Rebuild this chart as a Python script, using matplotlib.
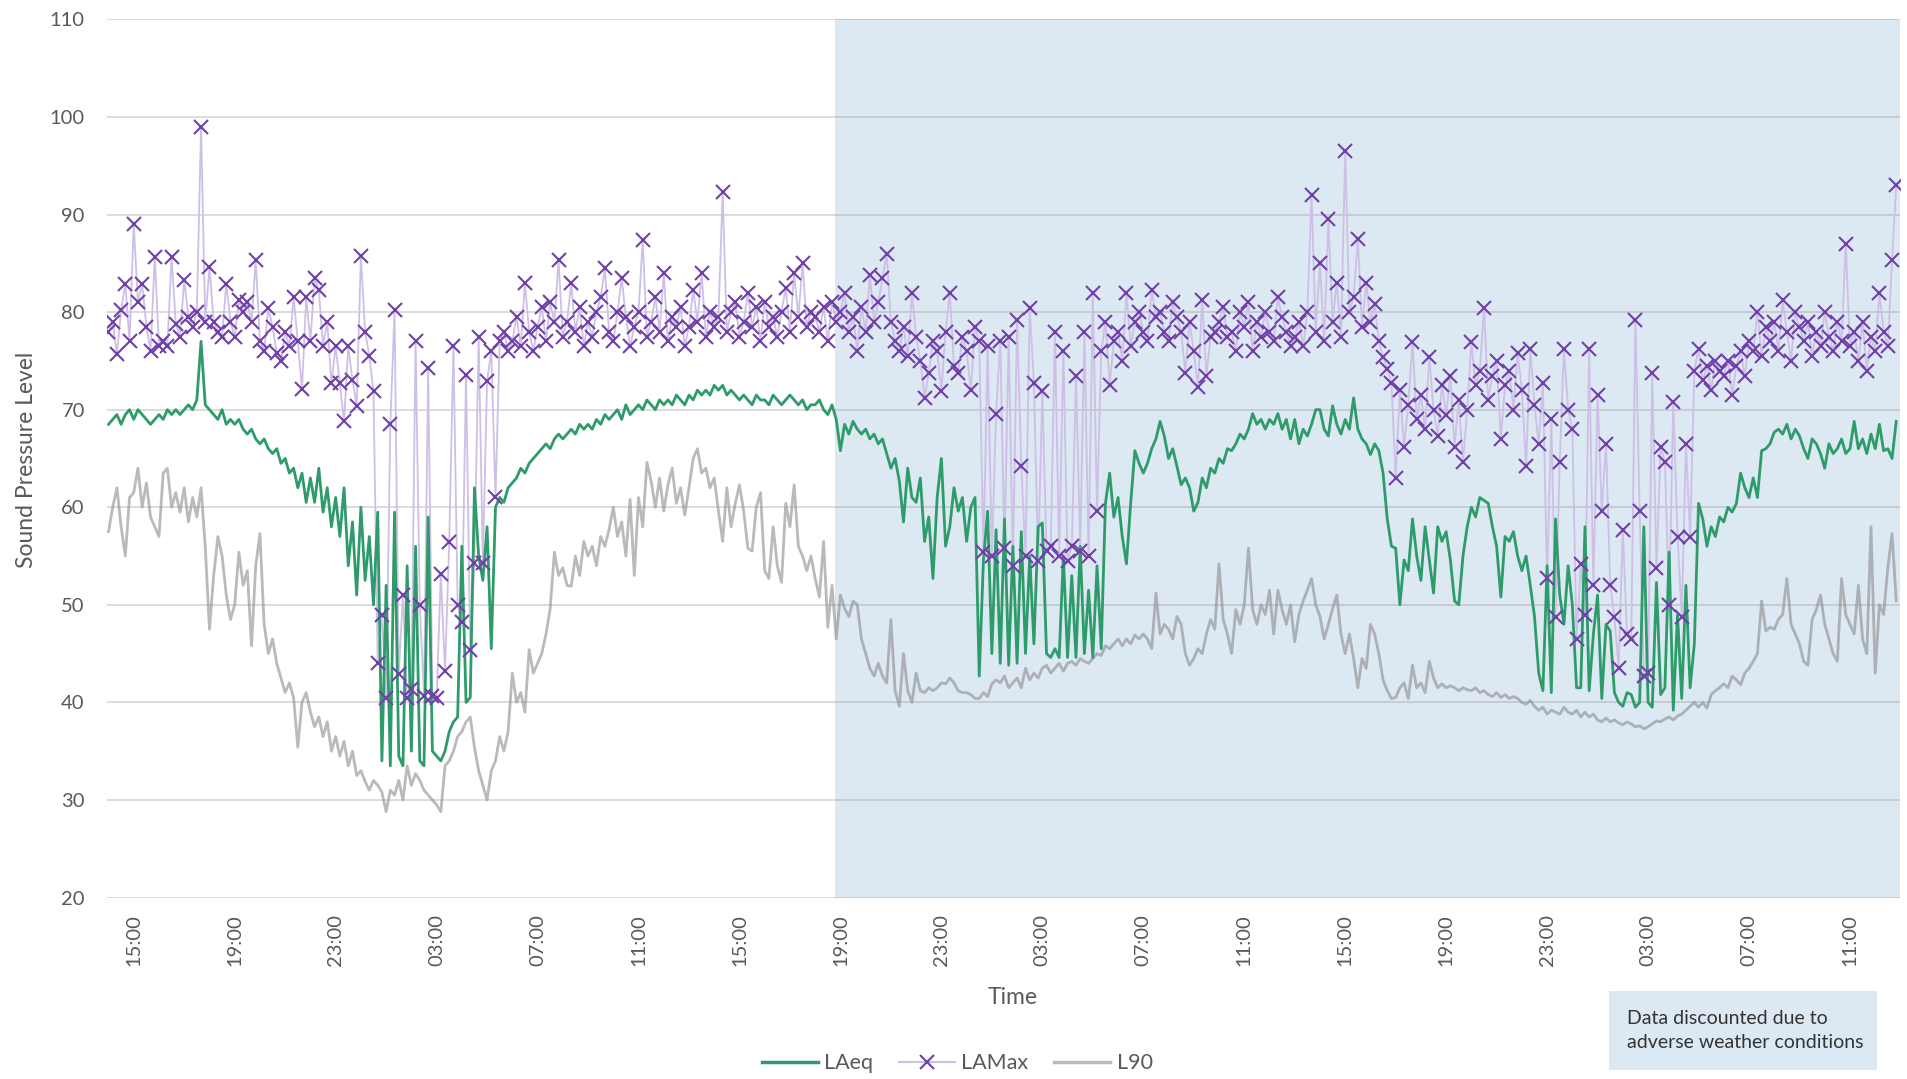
"""Sound pressure level time series (LAeq, LAMax, L90) over ~3 days, 10-min samples."""

import matplotlib
matplotlib.use("Agg")
import matplotlib.pyplot as plt
import numpy as np
from matplotlib.lines import Line2D
from matplotlib.patches import Rectangle

# Start of record: 14:00 on day 1, one value every 10 minutes (one row per hour).
START_HOUR = 14.0
STEP_HOURS = 1.0 / 6.0

LAEQ = [
    68.5, 69, 69.5, 68.5, 69.5, 70,        # 14:00
    69, 70, 69.5, 69, 68.5, 69,            # 15:00
    69.5, 69, 70, 69.5, 70, 69.5,          # 16:00
    70, 70.5, 70, 71, 77, 70.5,            # 17:00
    70, 69.5, 69, 70, 68.5, 69,            # 18:00
    68.5, 69, 68, 67.5, 68, 67,            # 19:00
    66.5, 67, 66, 65.5, 66, 64.5,          # 20:00
    65, 63.5, 64, 62, 63.5, 60.5,          # 21:00
    63, 60.5, 64, 59.5, 62, 58,            # 22:00
    61, 57, 62, 54, 58.5, 51,              # 23:00
    60, 52.5, 57, 50, 59.5, 34,            # 00:00
    52, 33.5, 59.5, 34.5, 33.5, 54,        # 01:00
    35, 56, 34, 33.5, 59, 35,              # 02:00
    34.5, 34, 35, 37, 38, 38.5,            # 03:00
    56, 40, 40.5, 62, 55, 52.5,            # 04:00
    58, 45.5, 60, 61, 60.5, 62,            # 05:00
    62.5, 63, 64, 63.5, 64.5, 65,          # 06:00
    65.5, 66, 66.5, 66, 67, 67.5,          # 07:00
    67, 67.5, 68, 67.5, 68.5, 68,          # 08:00
    68.5, 68, 69, 68.5, 69.5, 69,          # 09:00
    69.5, 70, 69, 70.5, 69.5, 70,          # 10:00
    70.5, 70, 71, 70.5, 70, 71,            # 11:00
    70.5, 71, 70.5, 71.5, 71, 70.5,        # 12:00
    71.5, 71, 72, 71.5, 72, 71.5,          # 13:00
    72.5, 72, 72.5, 71.5, 72, 71.5,        # 14:00
    71, 71.5, 71, 70.5, 71.5, 71,          # 15:00
    71, 70.5, 71.5, 71, 70.5, 71,          # 16:00
    71.5, 71, 70.5, 71, 70, 70.5,          # 17:00
    70.5, 71, 70, 69.5, 70.5, 69,          # 18:00
    65.8, 68.5, 67.5, 68.8, 68, 67.5,      # 19:00
    68, 67, 67.5, 66.5, 67, 65.5,          # 20:00
    64, 65, 62.7, 58.5, 64, 61,            # 21:00
    60.5, 63, 56.5, 59, 52.7, 61,          # 22:00
    65, 56, 58, 62, 59.6, 61,              # 23:00
    56.5, 60, 61, 42.7, 54.6, 59.6,        # 00:00
    45, 57.7, 44, 58.8, 43.8, 56,          # 01:00
    44, 57.5, 45, 55, 46, 58,              # 02:00
    58.4, 45, 44.6, 45.5, 44.6, 55,        # 03:00
    44.6, 53, 44.6, 56, 45, 51.5,          # 04:00
    44.6, 54, 45.5, 60.4, 63.5, 59,        # 05:00
    61, 57, 54.2, 60.4, 65.8, 64.5,        # 06:00
    63.5, 64.5, 66, 67, 68.8, 67.3,        # 07:00
    65, 66, 64.2, 62.3, 63, 62,            # 08:00
    59.6, 60.5, 63, 62, 64, 63.5,          # 09:00
    65, 64.5, 66, 65.8, 66.5, 67.5,        # 10:00
    67, 68, 69.6, 68.5, 69, 68,            # 11:00
    69, 68.5, 69.6, 68, 69, 67,            # 12:00
    69, 66.5, 68, 67.3, 68.5, 70,          # 13:00
    70, 68, 67.3, 70.4, 68.5, 67.5,        # 14:00
    69, 68, 71.2, 68, 67, 66.5,            # 15:00
    65.4, 66.5, 65.8, 63.5, 58.8, 56,      # 16:00
    55.8, 50, 54.6, 53.5, 58.8, 55,        # 17:00
    52.5, 58, 54.6, 51.2, 58, 56.5,        # 18:00
    57.5, 54.6, 50.4, 50, 55, 58,          # 19:00
    60, 59, 61, 60.7, 60.4, 58,            # 20:00
    56, 50.8, 57, 56.5, 57.5, 55,          # 21:00
    53.5, 55, 52, 48.8, 43, 41.2,          # 22:00
    54, 41, 58.8, 51, 48, 54,              # 23:00
    50, 41.5, 41.5, 58, 41.2, 47,          # 00:00
    51, 40.4, 48, 47.3, 41, 40,            # 01:00
    39.6, 41, 40.8, 39.5, 40, 58,          # 02:00
    40, 39.5, 52.3, 40.8, 41.5, 55.4,      # 03:00
    39.2, 49, 40.4, 52, 41.5, 46,          # 04:00
    60.4, 58.8, 56, 58, 57, 59,            # 05:00
    58.5, 60, 59.5, 60.4, 63.5, 62,        # 06:00
    61, 63, 61, 65.8, 66, 66.5,            # 07:00
    67.7, 68, 67.5, 68.5, 67, 68,          # 08:00
    67.3, 66, 65, 67, 66.5, 65.5,          # 09:00
    64, 66.5, 65.5, 66, 67, 65.5,          # 10:00
    66, 68.8, 66, 67, 65.5, 67.5,          # 11:00
    66, 68.5, 65.8, 66, 65, 68.8,          # 12:00
]

LAMAX = [
    78, 79, 75.7, 80.2, 82.9, 77,          # 14:00
    89, 81, 82.9, 78.5, 76, 85.7,          # 15:00
    76.5, 77, 76.5, 85.7, 78.8, 77.5,      # 16:00
    83.3, 79.5, 78.5, 80, 99, 79,          # 17:00
    84.6, 79, 78, 77.5, 82.9, 79,          # 18:00
    77.5, 81.2, 80, 81, 79, 85.3,          # 19:00
    77, 76, 80.4, 78.5, 75.8, 75,          # 20:00
    78, 76.5, 81.5, 77, 72.1, 81.5,        # 21:00
    77, 83.5, 82.3, 76.5, 79, 72.7,        # 22:00
    76.5, 72.7, 68.8, 76.5, 73, 70.4,      # 23:00
    85.8, 78, 75.5, 71.9, 44, 49,          # 00:00
    40.4, 68.5, 80.2, 42.9, 51, 40.4,      # 01:00
    41.4, 77, 50, 40.7, 74.3, 40.7,        # 02:00
    40.4, 53.2, 43.2, 56.4, 76.5, 50,      # 03:00
    48.2, 73.6, 45.4, 54.3, 77.5, 54.3,    # 04:00
    72.9, 76, 61.1, 77, 78, 76,            # 05:00
    77, 79.5, 76.5, 83, 78, 76,            # 06:00
    78.5, 80.5, 77, 81, 79, 85.3,          # 07:00
    77.5, 79, 83, 78, 80.5, 76.5,          # 08:00
    79, 77.5, 80, 81.5, 84.5, 78,          # 09:00
    77, 80, 83.5, 79.5, 76.5, 78.5,        # 10:00
    80, 87.4, 77.5, 79, 81.5, 78,          # 11:00
    84, 77, 79.5, 78.5, 80.5, 76.5,        # 12:00
    78.5, 82.3, 79, 84, 77.5, 80,          # 13:00
    78.5, 79.5, 92.3, 78, 80, 81,          # 14:00
    77.5, 79, 82, 78.5, 80.5, 77,          # 15:00
    81, 78.5, 79.5, 77.5, 80, 82.5,        # 16:00
    78, 84, 79.5, 85, 78.5, 80,            # 17:00
    79.5, 78, 80.5, 77, 81, 79,            # 18:00
    80, 82, 78, 79.5, 76, 80.5,            # 19:00
    78, 83.8, 79, 81, 83.5, 86,            # 20:00
    79, 77, 76, 78.5, 75.5, 82,            # 21:00
    77.5, 75, 71.2, 73.8, 77, 76,          # 22:00
    71.9, 78, 82, 74.5, 73.8, 77.5,        # 23:00
    76, 72, 78.5, 77, 55.4, 76.5,          # 00:00
    55, 69.6, 77, 55.8, 77.5, 54,          # 01:00
    79.2, 64.2, 55, 80.4, 72.7, 54.5,      # 02:00
    71.9, 55.5, 56, 78, 55, 76,            # 03:00
    54.5, 56, 73.5, 55.5, 78, 55,          # 04:00
    82, 59.6, 76, 79, 72.5, 77,            # 05:00
    78, 75, 82, 76.5, 79, 80,              # 06:00
    78, 77, 82.3, 79.5, 80, 78,            # 07:00
    77, 81, 79.5, 78, 73.8, 79,            # 08:00
    76, 72.3, 81.2, 73.5, 77.5, 78,        # 09:00
    79, 80.5, 77.5, 78, 76, 80,            # 10:00
    78.5, 81, 76, 79, 77.5, 80,            # 11:00
    78, 77, 81.5, 79.5, 78, 76.5,          # 12:00
    77.5, 79, 76.5, 80, 92, 78,            # 13:00
    85, 77, 89.5, 79, 83, 77.5,            # 14:00
    96.5, 80, 81.5, 87.5, 78.5, 83,        # 15:00
    79, 80.8, 77, 75.4, 74.2, 72.7,        # 16:00
    63, 72, 66.2, 70.5, 76.9, 69,          # 17:00
    71.5, 68, 75.4, 70, 67.3, 72.5,        # 18:00
    69.5, 73.5, 66.2, 71, 64.6, 70,        # 19:00
    76.9, 72.5, 74, 80.4, 71, 73.5,        # 20:00
    75, 67, 72.5, 74, 70, 75.8,            # 21:00
    72, 64.2, 76.2, 70.5, 66.5, 72.7,      # 22:00
    52.7, 69, 48.8, 64.6, 76.2, 70,        # 23:00
    68, 46.5, 54.2, 49, 76.2, 52,          # 00:00
    71.5, 59.6, 66.5, 52, 48.8, 43.5,      # 01:00
    57.7, 47, 46.5, 79.2, 59.6, 42.7,      # 02:00
    43, 73.8, 53.8, 66.2, 64.6, 50,        # 03:00
    70.8, 57, 48.8, 66.5, 57, 74,          # 04:00
    76.2, 73, 74.5, 72, 75, 74,            # 05:00
    73.5, 75, 71.5, 74.5, 76, 73.5,        # 06:00
    77, 76, 80, 75.5, 78.5, 77,            # 07:00
    79, 76, 81.2, 78, 75, 80,              # 08:00
    78.5, 77, 79, 75.5, 78, 76.5,          # 09:00
    80, 77.5, 76, 79, 77, 87,              # 10:00
    76.5, 78, 75, 79, 74, 77.5,            # 11:00
    76, 82, 78, 76.5, 85.3, 93,            # 12:00
]

L90 = [
    57.5, 60, 62, 58, 55, 61,              # 14:00
    61.5, 64, 60, 62.5, 59, 58,            # 15:00
    57, 63.5, 64, 60, 61.5, 59.5,          # 16:00
    62, 58.5, 61, 59, 62, 56,              # 17:00
    47.5, 53, 57, 55, 51, 48.5,            # 18:00
    50, 55.4, 52, 53.5, 45.8, 54,          # 19:00
    57.3, 48, 45, 46.5, 44, 42.5,          # 20:00
    41, 42, 40.5, 35.4, 40, 41,            # 21:00
    39, 37.5, 38.5, 36.5, 38, 35,          # 22:00
    36.5, 34.5, 36, 33.5, 35, 32.5,        # 23:00
    33, 31.9, 31, 32, 31.5, 30.8,          # 00:00
    28.8, 31, 30.5, 32, 30, 33.5,          # 01:00
    31.5, 32.7, 32, 31, 30.5, 30,          # 02:00
    29.5, 28.8, 33.5, 34, 35, 36.5,        # 03:00
    37, 38, 38.5, 35.4, 33, 31.5,          # 04:00
    30, 33, 34, 36.5, 35, 37,              # 05:00
    43, 40, 41, 39, 45.4, 43,              # 06:00
    44, 45, 47, 49.6, 55.4, 53,            # 07:00
    53.8, 52, 51.9, 55, 53, 56.5,          # 08:00
    55, 56, 54, 57, 56, 57.7,              # 09:00
    60, 57, 58.5, 55, 60.8, 53,            # 10:00
    61, 58, 64.6, 62.7, 60, 63,            # 11:00
    59.6, 62.3, 64, 60.4, 62, 59.2,        # 12:00
    62, 65, 66, 63.5, 64, 62,              # 13:00
    63, 59.6, 56.5, 62, 58, 60.4,          # 14:00
    62.3, 59.6, 55.8, 55.5, 60, 61.5,      # 15:00
    53.5, 52.7, 58, 54, 52.3, 60.4,        # 16:00
    58, 62.3, 56, 55, 53.5, 55,            # 17:00
    52.7, 50.8, 56.5, 47.7, 52, 46.5,      # 18:00
    51, 49.6, 48.8, 50.4, 50, 46.5,        # 19:00
    45, 43.5, 42.7, 44, 42.7, 42,          # 20:00
    48.5, 41.2, 39.6, 45, 41.2, 40,        # 21:00
    43, 41.2, 41, 41.5, 41.2, 41.5,        # 22:00
    42, 41.9, 42.5, 42, 41.2, 41,          # 23:00
    41, 40.8, 40.4, 40.4, 41, 40.6,        # 00:00
    41.9, 42.3, 42, 42.7, 41.5, 42,        # 01:00
    42.5, 41.5, 43.5, 42.3, 43, 42.5,      # 02:00
    43.5, 43.8, 43, 43.5, 44, 43.2,        # 03:00
    44, 44.2, 43.8, 44.5, 44.2, 44,        # 04:00
    44.5, 45, 44.8, 45.8, 45.5, 46,        # 05:00
    46.5, 45.8, 46.5, 46, 46.9, 46.5,      # 06:00
    47, 46.5, 45.5, 51.2, 47, 48,          # 07:00
    47.5, 46.5, 48.8, 48, 45, 43.8,        # 08:00
    44.5, 45.5, 45, 47, 48.5, 47.5,        # 09:00
    54.2, 48.5, 47, 45, 49.5, 48,          # 10:00
    50, 55.8, 49.5, 48, 50, 49,            # 11:00
    51.5, 47, 51.5, 49.5, 48, 50,          # 12:00
    46.2, 49, 50.4, 51.5, 52.7, 50,        # 13:00
    48.8, 46.5, 48, 49.6, 51, 47,          # 14:00
    45, 47, 44.5, 41.5, 44.5, 43.5,        # 15:00
    48, 47, 45, 42.3, 41.2, 40.4,          # 16:00
    40.5, 41.5, 42, 40.4, 43.8, 41.5,      # 17:00
    42, 41, 44.2, 42.5, 41.5, 41.9,        # 18:00
    41.5, 41.7, 41.5, 41.2, 41.5, 41.3,    # 19:00
    41.2, 41.5, 41, 41.2, 40.8, 40.6,      # 20:00
    41, 40.5, 40.8, 40.4, 40.6, 40.4,      # 21:00
    40, 39.8, 40.2, 39.6, 39.2, 39.5,      # 22:00
    38.8, 39.2, 39, 38.8, 39.5, 39,        # 23:00
    38.8, 39.2, 38.5, 39, 38.5, 38.8,      # 00:00
    38.2, 38, 38.4, 38, 38.2, 37.9,        # 01:00
    37.7, 38, 37.8, 37.5, 37.6, 37.3,      # 02:00
    37.5, 37.8, 38.1, 38, 38.3, 38.5,      # 03:00
    38.2, 38.6, 38.8, 39.2, 39.6, 40,      # 04:00
    39.5, 40, 39.4, 40.8, 41.2, 41.5,      # 05:00
    41.9, 41.5, 42.7, 42.3, 41.8, 43,      # 06:00
    43.5, 44.2, 45, 50.4, 47.3, 47.7,      # 07:00
    47.5, 48.5, 49, 52.7, 48, 47,          # 08:00
    46, 44.2, 43.8, 48.5, 49.5, 51,        # 09:00
    48, 46.5, 45, 44.2, 52.7, 49,          # 10:00
    48, 47, 52, 46.5, 45, 58,              # 11:00
    43, 50, 49, 53.8, 57.3, 50.4,          # 12:00
]

TICK_LABELS = ["15:00", "19:00", "23:00", "03:00", "07:00", "11:00"] * 3
FIRST_TICK_HOUR = 15
TICK_EVERY_HOURS = 4
DISCOUNT_FROM_HOUR = 42.8  # 18:48 on day 2

X_MIN, X_MAX = 13.94, 84.98

COLOR_LAEQ = "#2E9B6B"
COLOR_LAMAX_LINE = "#CDBFE6"
COLOR_LAMAX_MARK = "#7040A8"
COLOR_L90 = "#8C8C8C"
COLOR_SHADE = "#DCE8F2"
COLOR_TEXT = "#595959"


def main() -> None:
    plt.rcParams["font.family"] = ["Lato", "DejaVu Sans"]

    hours = START_HOUR + np.arange(len(LAEQ)) * STEP_HOURS

    fig = plt.figure(figsize=(19.07, 10.79), dpi=100)
    ax = fig.add_axes([0.0561, 0.1682, 0.9402, 0.8138])

    # Shaded region for discounted data, under the gridlines.
    ax.axvspan(DISCOUNT_FROM_HOUR, X_MAX, color=COLOR_SHADE, lw=0, zorder=0.2)

    ax.plot(hours, LAMAX, color=COLOR_LAMAX_LINE, lw=1.3, zorder=2)
    ax.plot(hours, L90, color=COLOR_L90, alpha=0.6, lw=2.0, zorder=3)
    ax.plot(hours, LAEQ, color=COLOR_LAEQ, lw=2.0, zorder=4)
    ax.plot(hours, LAMAX, ls="none", marker="x", ms=10, mew=1.5,
            color=COLOR_LAMAX_MARK, zorder=5)

    ax.set_xlim(X_MIN, X_MAX)
    ax.set_ylim(20, 110)
    ax.set_yticks(np.arange(20, 111, 10))
    tick_pos = FIRST_TICK_HOUR + TICK_EVERY_HOURS * np.arange(len(TICK_LABELS))
    ax.set_xticks(tick_pos)
    ax.set_xticklabels(TICK_LABELS, rotation=90)

    ax.set_axisbelow(True)
    ax.yaxis.grid(True, color="#9E9E9E", alpha=0.4, lw=1.3)
    ax.xaxis.grid(False)
    for spine in ax.spines.values():
        spine.set_visible(False)
    ax.tick_params(axis="both", length=0, labelsize=14.5, labelcolor=COLOR_TEXT)
    ax.tick_params(axis="y", pad=16)
    ax.tick_params(axis="x", pad=12)

    fig.text(27 / 1907, 1 - 460 / 1079, "Sound Pressure Level", rotation=90,
             ha="center", va="center", fontsize=16.5, color=COLOR_TEXT)
    fig.text(1013 / 1907, 1 - 998 / 1079, "Time", ha="center", va="center",
             fontsize=16.5, color=COLOR_TEXT)

    handles = [
        Line2D([], [], color=COLOR_LAEQ, lw=2.5),
        Line2D([], [], color=COLOR_LAMAX_LINE, lw=1.5, marker="x", ms=10,
               mew=1.5, mec=COLOR_LAMAX_MARK),
        Line2D([], [], color=COLOR_L90, alpha=0.6, lw=2.5),
    ]
    fig.legend(handles, ["LAeq", "LAMax", "L90"], loc="center",
               bbox_to_anchor=(0.502, 0.0145), ncol=3, frameon=False,
               fontsize=15.5, labelcolor=COLOR_TEXT, handlelength=2.6,
               handletextpad=0.3, columnspacing=1.2)

    # Note box, bottom right.
    fig.patches.append(Rectangle((0.8437, 0.0083), 0.1406, 0.0733,
                                 transform=fig.transFigure, facecolor=COLOR_SHADE,
                                 edgecolor="none"))
    fig.text(0.853, 0.0450, "Data discounted due to\nadverse weather conditions",
             ha="left", va="center", fontsize=14, color="#333333", linespacing=1.45)

    fig.savefig("out.png", dpi=100, facecolor="white")
    plt.close(fig)


if __name__ == "__main__":
    main()
